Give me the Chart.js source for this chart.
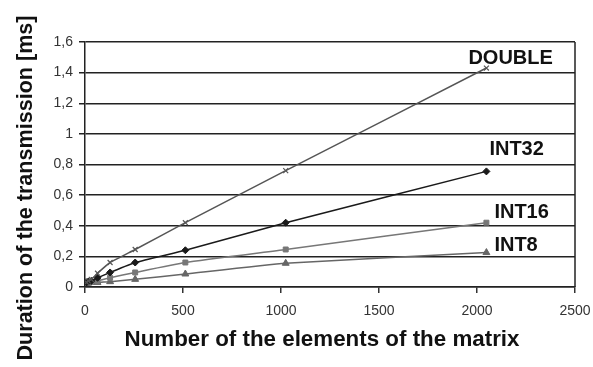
<!DOCTYPE html>
<html>
<head>
<meta charset="utf-8">
<script src="https://cdn.jsdelivr.net/npm/chart.js@4"></script>
<style>
  html, body { margin: 0; padding: 0; background: #fff; }
  #wrap { width: 593px; height: 367px; }
</style>
</head>
<body>
<div id="wrap"><canvas id="chart" width="593" height="367"></canvas></div>
<script>
// Data
const SIZES = [8, 16, 32, 64, 128, 256, 512, 1024, 2048];
const DOUBLE = [0.03, 0.04, 0.05, 0.09, 0.16, 0.245, 0.42, 0.76, 1.43];
const INT32 = [0.03, 0.035, 0.04, 0.06, 0.095, 0.16, 0.24, 0.42, 0.755];
const INT16 = [0.03, 0.03, 0.035, 0.04, 0.06, 0.095, 0.16, 0.245, 0.42];
const INT8 = [0.025, 0.025, 0.03, 0.03, 0.035, 0.05, 0.085, 0.155, 0.225];
const SERIES_NAMES = ['DOUBLE', 'INT32', 'INT16', 'INT8'];
const X_TICKS = [0, 500, 1000, 1500, 2000, 2500];
const Y_TICKS = [0, 0.2, 0.4, 0.6, 0.8, 1, 1.2, 1.4, 1.6];

const X_TITLE = 'Number of the elements of the matrix';
const Y_TITLE = 'Duration of the transmission [ms]';

const FONT = "'Liberation Sans', Arial, sans-serif";

// label offsets from the last point of each line (dx, dy in px)
const LABEL_OFFSETS = [[-18, -10], [3, -22], [8, -10], [8, -7]];

const toPoints = vals => vals.map((v, i) => ({ x: SIZES[i], y: v }));

const styles = [
  { color: '#555', point: 'crossRot', radius: 3.5 },
  { color: '#1a1a1a', point: 'rectRot', radius: 3.5 },
  { color: '#777', point: 'rect', radius: 3.5 },
  { color: '#666', point: 'triangle', radius: 4 }
];

const datasets = [DOUBLE, INT32, INT16, INT8].map((vals, i) => ({
  label: SERIES_NAMES[i],
  data: toPoints(vals),
  borderColor: styles[i].color,
  backgroundColor: styles[i].color,
  borderWidth: 1.5,
  pointStyle: styles[i].point,
  pointRadius: styles[i].radius,
  pointBorderWidth: i === 0 ? 1.2 : 1,
  tension: 0.15
}));

// frame, titles and end-of-line labels
const decor = {
  id: 'decor',
  afterDraw(chart) {
    const { ctx, chartArea: a, scales } = chart;
    ctx.save();
    ctx.strokeStyle = '#222';
    ctx.lineWidth = 1.5;
    ctx.beginPath();
    ctx.moveTo(a.right, a.top);
    ctx.lineTo(a.right, a.bottom);
    ctx.stroke();

    // line labels
    ctx.fillStyle = '#111';
    ctx.font = 'bold 20px ' + FONT;
    ctx.textBaseline = 'middle';
    ctx.textAlign = 'left';
    chart.data.datasets.forEach((ds, i) => {
      const last = ds.data[ds.data.length - 1];
      const px = scales.x.getPixelForValue(last.x);
      const py = scales.y.getPixelForValue(last.y);
      ctx.fillText(ds.label, px + LABEL_OFFSETS[i][0], py + LABEL_OFFSETS[i][1]);
    });

    // axis titles, squeezed to the width of the originals
    ctx.font = 'bold 22px ' + FONT;
    ctx.textAlign = 'center';
    ctx.textBaseline = 'alphabetic';
    let w = ctx.measureText(X_TITLE).width;
    ctx.save();
    ctx.translate(322, 346);
    ctx.scale(395 / w, 1);
    ctx.fillText(X_TITLE, 0, 0);
    ctx.restore();

    w = ctx.measureText(Y_TITLE).width;
    ctx.save();
    ctx.translate(32, 188);
    ctx.rotate(-Math.PI / 2);
    ctx.scale(345 / w, 1);
    ctx.fillText(Y_TITLE, 0, 0);
    ctx.restore();
    ctx.restore();
  }
};

new Chart(document.getElementById('chart'), {
  type: 'line',
  data: { datasets },
  plugins: [decor],
  options: {
    responsive: false,
    animation: false,
    layout: { padding: { left: 0, right: 18, top: 42, bottom: 0 } },
    plugins: {
      legend: { display: false },
      tooltip: { enabled: false }
    },
    scales: {
      x: {
        type: 'linear',
        min: 0,
        max: 2500,
        afterBuildTicks: s => { s.ticks = X_TICKS.map(v => ({ value: v })); },
        afterFit: s => { s.height = 80; s.paddingLeft = 0; s.paddingRight = 0; },
        ticks: {
          color: '#333',
          font: { family: FONT, size: 14 },
          padding: 10,
          maxRotation: 0,
          callback: v => String(v)
        },
        grid: { drawOnChartArea: false, drawTicks: true, tickLength: 6, color: '#333', lineWidth: 1.5 },
        border: { color: '#222', width: 1.5 }
      },
      y: {
        min: 0,
        max: 1.6,
        afterBuildTicks: s => { s.ticks = Y_TICKS.map(v => ({ value: v })); },
        afterFit: s => { s.width = 85; s.paddingTop = 0; s.paddingBottom = 0; },
        ticks: {
          color: '#333',
          font: { family: FONT, size: 14 },
          padding: 6,
          callback: v => String(Math.round(v * 10) / 10).replace('.', ',')
        },
        grid: { color: '#222', lineWidth: 1.5, tickLength: 6 },
        border: { color: '#222', width: 1.5 }
      }
    }
  }
});
</script>
</body>
</html>
